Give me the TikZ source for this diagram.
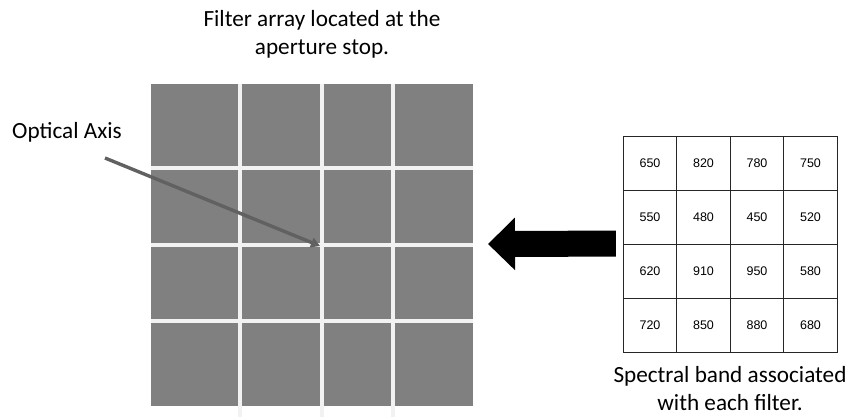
\documentclass[tikz,border=0pt]{standalone}
\usepackage{fontspec}
\setmainfont{Carlito}
\newfontfamily\numfont{Liberation Sans}
\usetikzlibrary{arrows.meta}

\begin{document}
\begin{tikzpicture}[x=1pt,y=-1pt,
    caption/.style={font=\fontsize{23.2}{28}\selectfont, align=center, inner sep=0pt},
    band/.style={draw=black!85, line width=0.8pt, minimum width=53.5pt,
      minimum height=54pt, inner sep=0pt, font=\numfont\fontsize{12.5}{12.5}\selectfont},
    gap/.style={draw=black!5, line width=4pt}]
  \useasboundingbox (0,0) rectangle (852,417);
  \node[caption] (title) at (322,34) {Filter array located at the\\aperture stop.};
  % filter array, 4 x 4
  \fill[black!50] (151,84) rectangle (473,406);
  \foreach \x in {240,322,393}
    \draw[gap] (\x,84) -- (\x,417);
  \foreach \y in {168,244.5,321}
    \draw[gap] (151,\y) -- (473,\y);
  % optical axis
  \node[caption] (axis) at (67,132) {Optical Axis};
  \coordinate (axistail) at (105,158);
  \coordinate (axistip) at (320,246);
  \draw[black!62, line width=3.4pt, -{Triangle[length=9pt, width=10pt]}] (axistail) -- (axistip);
  % spectral bands
  \foreach \row [count=\r] in {{650,820,780,750},{550,480,450,520},{620,910,950,580},{720,850,880,680}}
    \foreach \v [count=\c] in \row
      \node[band] (b\r\c) at ({596.5+53.5*\c},{109+54*\r}) {\v};
  \node[caption] (bands) at (730,389) {Spectral band associated\\with each filter.};
  \draw[line width=26pt, -{Triangle[length=27pt, width=51pt]}] ([xshift=-7pt]b31.north west) -- (488,244);
\end{tikzpicture}
\end{document}
